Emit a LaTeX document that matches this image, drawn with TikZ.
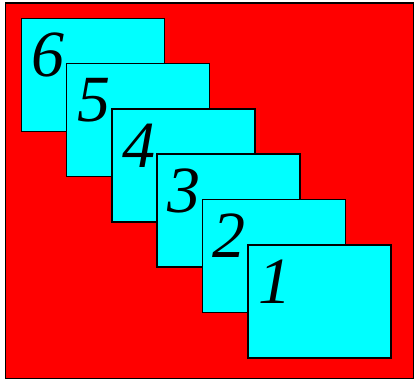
\documentclass[tikz,border=0pt]{standalone}
\usepackage{fontspec}
\setmainfont{Liberation Serif}
\usetikzlibrary{calc}
\definecolor{cardcyan}{RGB}{0,255,255}
\definecolor{backred}{RGB}{255,0,0}
\tikzset{
  card/.style={draw=black,line width=1.6pt,fill=cardcyan,minimum width=143pt,minimum height=113pt,inner sep=0pt,anchor=north west},
  num/.style={font=\fontsize{66}{66}\selectfont\itshape,inner sep=0pt,anchor=base west}
}
\begin{document}
\begin{tikzpicture}[x=1pt,y=-1pt]
  \useasboundingbox (0,0) rectangle (419,381);
  \draw[fill=backred,line width=1.6pt] (5.5,3) rectangle (413.5,378.5);
  % cards, back to front
  \foreach \n in {6,5,4,3,2,1} {
    \node[card] (c\n) at ({20.5+(6-\n)*45.3},{17.5+(6-\n)*45.3}) {};
    \node[num] (t\n) at ($(c\n.north west)+(11,59)$) {\n};
  }
\end{tikzpicture}
\end{document}
